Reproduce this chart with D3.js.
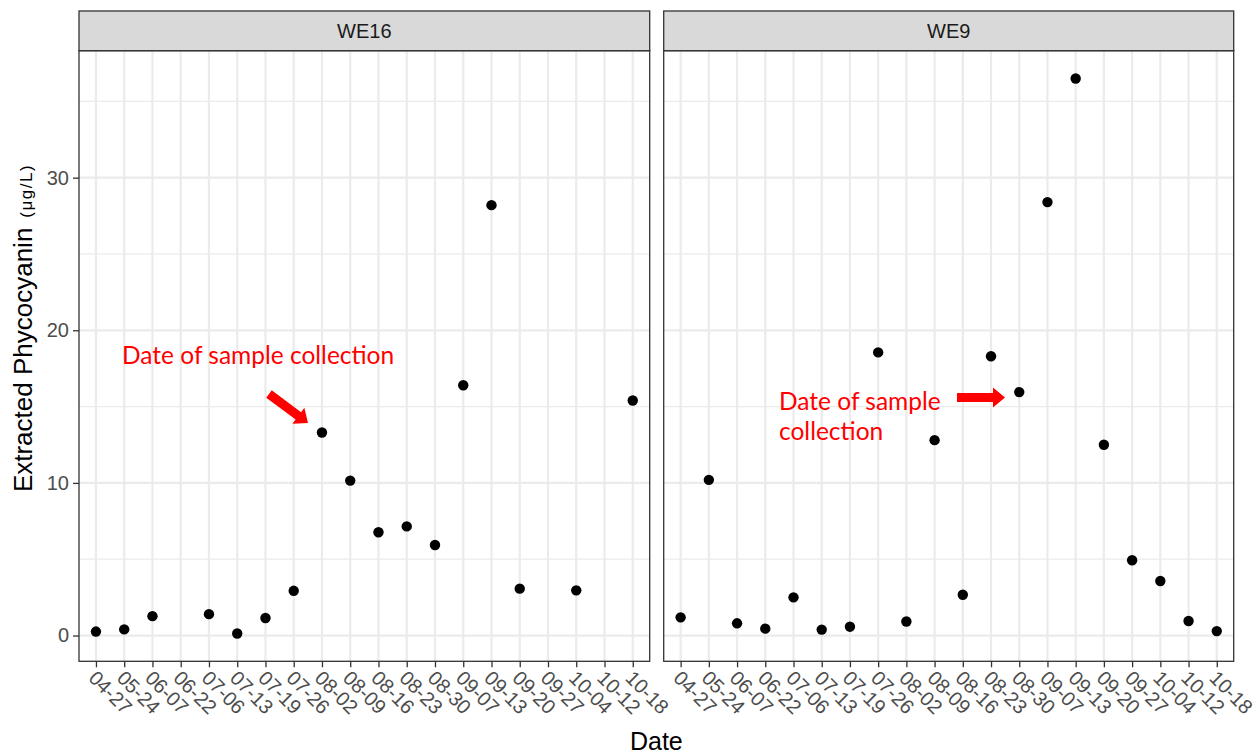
<!DOCTYPE html>
<html><head><meta charset="utf-8">
<script src="https://cdn.jsdelivr.net/npm/d3@7"></script>
<style>html,body{margin:0;padding:0;background:#fff;} svg{display:block;}</style>
</head><body>
<svg id="chart" width="1258" height="756"></svg>
<script>
const dates = ["04-27","05-24","06-07","06-22","07-06","07-13","07-19","07-26","08-02","08-09","08-16","08-23","08-30","09-07","09-13","09-20","09-27","10-04","10-12","10-18"];
const sites = ["WE16","WE9"];
const we16 = [0.26, 0.40, 1.27, null, 1.40, 0.13, 1.15, 2.93, 13.3, 10.15, 6.77, 7.15, 5.93, 16.4, 28.2, 3.07, null, 2.96, null, 15.4];
const we9 = [1.19, 10.2, 0.80, 0.45, 2.50, 0.39, 0.58, 18.55, 0.92, 12.8, 2.67, 18.3, 15.95, 28.4, 36.5, 12.5, 4.93, 3.57, 0.95, 0.29];
const yTicks = [0, 10, 20, 30];
const yMinor = [5, 15, 25, 35];
const annotations = [
  {site: "WE16", lines: ["Date of sample collection"]},
  {site: "WE9", lines: ["Date of sample", "collection"]}
];

const svg = d3.select("#chart");
const panels = [
  {site: sites[0], values: we16, x0: 79, x1: 649.7},
  {site: sites[1], values: we9, x0: 663.7, x1: 1233.7}
];
const pTop = 50.7, pBottom = 661.3, stripTop = 11;
const all = we16.concat(we9).filter(v => v != null);
const mn = d3.min(all), mx = d3.max(all), ex = (mx - mn) * 0.05;
const y = d3.scaleLinear().domain([mn - ex, mx + ex]).range([pBottom, pTop]);
const FONT = "'Liberation Sans', Arial, sans-serif";

panels.forEach(p => {
  const x = d3.scalePoint().domain(dates).range([p.x0, p.x1]).padding(0.6);
  const g = svg.append("g");
  g.append("rect").attr("x", p.x0).attr("y", pTop).attr("width", p.x1 - p.x0).attr("height", pBottom - pTop).attr("fill", "#fff");
  g.selectAll(".ymin").data(yMinor).join("line")
    .attr("x1", p.x0).attr("x2", p.x1).attr("y1", d => y(d)).attr("y2", d => y(d))
    .attr("stroke", "#ebebeb").attr("stroke-width", 1.2);
  g.selectAll(".ymaj").data(yTicks).join("line")
    .attr("x1", p.x0).attr("x2", p.x1).attr("y1", d => y(d)).attr("y2", d => y(d))
    .attr("stroke", "#ebebeb").attr("stroke-width", 2.2);
  g.selectAll(".xmaj").data(dates).join("line")
    .attr("x1", d => x(d)).attr("x2", d => x(d)).attr("y1", pTop).attr("y2", pBottom)
    .attr("stroke", "#ebebeb").attr("stroke-width", 2.2);
  g.selectAll(".pt").data(dates.map((d, i) => ({d, v: p.values[i]})).filter(o => o.v != null)).join("circle")
    .attr("cx", o => x(o.d)).attr("cy", o => y(o.v)).attr("r", 5.2).attr("fill", "#000");
  g.append("rect").attr("x", p.x0).attr("y", pTop).attr("width", p.x1 - p.x0).attr("height", pBottom - pTop)
    .attr("fill", "none").attr("stroke", "#333").attr("stroke-width", 1.3);
  g.append("rect").attr("x", p.x0).attr("y", stripTop).attr("width", p.x1 - p.x0).attr("height", pTop - stripTop)
    .attr("fill", "#d9d9d9").attr("stroke", "#333").attr("stroke-width", 1.3);
  g.append("text").attr("x", (p.x0 + p.x1) / 2).attr("y", (stripTop + pTop) / 2).attr("dy", "0.36em")
    .attr("text-anchor", "middle").attr("font-family", FONT).attr("font-size", 20).attr("fill", "#1a1a1a").text(p.site);
  const xa = g.append("g").attr("transform", `translate(0,${pBottom})`)
    .call(d3.axisBottom(x).tickSize(6).tickPadding(0).tickSizeOuter(0));
  xa.select(".domain").remove();
  xa.selectAll(".tick line").attr("stroke", "#333").attr("stroke-width", 1.3);
  xa.selectAll(".tick text")
    .attr("font-family", FONT).attr("font-size", 20).attr("fill", "#4d4d4d")
    .attr("text-anchor", "start").attr("y", 0).attr("dy", "0.35em")
    .attr("transform", "translate(-4,13) rotate(45)");
  if (p.site === "WE16") {
    const ya = g.append("g").attr("transform", `translate(${p.x0},0)`)
      .call(d3.axisLeft(y).tickValues(yTicks).tickSize(6).tickPadding(4).tickSizeOuter(0));
    ya.select(".domain").remove();
    ya.selectAll(".tick line").attr("stroke", "#333").attr("stroke-width", 1.3);
    ya.selectAll(".tick text").attr("font-family", FONT).attr("font-size", 20).attr("fill", "#4d4d4d");
  }
});

svg.append("text").attr("x", (79 + 1233.7) / 2).attr("y", 750).attr("text-anchor", "middle")
  .attr("font-family", FONT).attr("font-size", 25).attr("fill", "#000").text("Date");
const yt = svg.append("text").attr("transform", "translate(32,328) rotate(-90)").attr("text-anchor", "middle")
  .attr("font-family", FONT).attr("font-size", 26).attr("fill", "#000");
yt.append("tspan").text("Extracted Phycocyanin");
yt.append("tspan").attr("dx", 10).attr("font-size", 17).attr("letter-spacing", 1.5).text("(μg/L)");

const AF = "Lato, 'Open Sans', sans-serif";
const red = "#ff0000";
svg.append("text").attr("x", 122).attr("y", 364).attr("font-family", AF).attr("font-size", 24.5).attr("fill", red)
  .text(annotations[0].lines[0]);
const t2 = svg.append("text").attr("x", 780).attr("font-family", AF).attr("font-size", 24.5).attr("fill", red);
annotations[1].lines.forEach((l, i) => t2.append("tspan").attr("x", 779).attr("y", 410 + i * 30).text(l));

function arrow(x0, y0, x1, y1) {
  const len = Math.hypot(x1 - x0, y1 - y0), ang = Math.atan2(y1 - y0, x1 - x0) * 180 / Math.PI;
  const sw = 4.6, hw = 10, hl = 12;
  const pts = [[0, -sw], [len - hl, -sw], [len - hl, -hw], [len, 0], [len - hl, hw], [len - hl, sw], [0, sw]];
  svg.append("path").attr("d", "M" + pts.join("L") + "Z").attr("fill", red)
    .attr("transform", `translate(${x0},${y0}) rotate(${ang})`);
}
arrow(269, 394, 308, 423);
arrow(957, 397.5, 1005, 397.5);
</script>
</body></html>
